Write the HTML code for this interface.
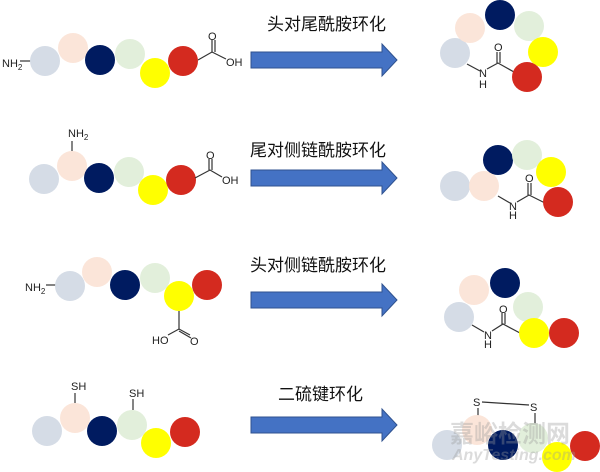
<!DOCTYPE html>
<html><head><meta charset="utf-8"><style>
html,body{margin:0;padding:0;background:#fff;}
svg{display:block}
.t{font-family:"Liberation Sans",sans-serif;font-size:11px;fill:#222}
.c{font-family:"Liberation Sans","Noto Sans CJK SC",sans-serif;font-size:17px;fill:#111}
line,polyline{stroke:#333;stroke-width:1.2;fill:none}
</style></head><body>
<svg width="600" height="472" viewBox="0 0 600 472">
<defs>
<g id="arr"><polygon points="251,-8 382,-8 382,-16 397,0 382,16 382,8 251,8" fill="#4472c4" stroke="#2f528f" stroke-width="1"/></g>
</defs>
<!-- labels -->
<text class="c" x="267" y="30">头对尾酰胺环化</text>
<text class="c" x="250" y="156">尾对侧链酰胺环化</text>
<text class="c" x="250" y="271">头对侧链酰胺环化</text>
<text class="c" x="278" y="400">二硫键环化</text>
<use href="#arr" y="60"/>
<use href="#arr" y="178"/>
<use href="#arr" y="300"/>
<use href="#arr" y="425"/>

<!-- Row1 left -->
<text class="t" x="2" y="67">NH<tspan font-size="8" dy="3">2</tspan></text>
<line x1="20" y1="61" x2="31" y2="61"/>
<circle cx="45" cy="61" r="15" fill="#d5dce6"/>
<circle cx="73" cy="48" r="15" fill="#fbe5d9"/>
<circle cx="100" cy="60" r="15" fill="#001b60"/>
<circle cx="130" cy="54" r="15" fill="#e2efdb"/>
<circle cx="155" cy="73" r="15" fill="#ffff00"/>
<circle cx="183" cy="61" r="15" fill="#d42a1f"/>
<polyline points="198,60 212,52 226,59"/>
<line x1="212" y1="52" x2="212" y2="40"/><line x1="215" y1="52" x2="215" y2="40"/>
<text class="t" x="208" y="40">O</text>
<text class="t" x="226" y="66">OH</text>

<!-- Row1 right -->
<circle cx="455" cy="53" r="15" fill="#d5dce6"/>
<circle cx="470" cy="28" r="15" fill="#fbe5d9"/>
<circle cx="500" cy="15" r="15" fill="#001b60"/>
<circle cx="529" cy="26" r="15" fill="#e2efdb"/>
<circle cx="543" cy="52" r="15" fill="#ffff00"/>
<polyline points="467,64 480,71"/>
<polyline points="487,69 498,63 514,72"/>
<line x1="497" y1="63" x2="497" y2="52"/><line x1="500" y1="63" x2="500" y2="52"/>
<text class="t" x="494" y="51">O</text>
<text class="t" x="479" y="77">N</text><text class="t" x="479" y="88">H</text>
<circle cx="527" cy="77" r="15" fill="#d42a1f"/>

<!-- Row2 left -->
<text class="t" x="68" y="137">NH<tspan font-size="8" dy="3">2</tspan></text>
<line x1="72" y1="141" x2="72" y2="151"/>
<circle cx="44" cy="179" r="15" fill="#d5dce6"/>
<circle cx="72" cy="166" r="15" fill="#fbe5d9"/>
<circle cx="99" cy="178" r="15" fill="#001b60"/>
<circle cx="129" cy="172" r="15" fill="#e2efdb"/>
<circle cx="153" cy="190" r="15" fill="#ffff00"/>
<circle cx="181" cy="180" r="15" fill="#d42a1f"/>
<polyline points="195,178 210,170 222,177"/>
<line x1="209" y1="170" x2="209" y2="159"/><line x1="212" y1="170" x2="212" y2="159"/>
<text class="t" x="206" y="159">O</text>
<text class="t" x="222" y="184">OH</text>

<!-- Row2 right -->
<circle cx="455" cy="186" r="15" fill="#d5dce6"/>
<circle cx="484" cy="186" r="15" fill="#fbe5d9"/>
<circle cx="498" cy="160" r="15" fill="#001b60"/>
<circle cx="527" cy="155" r="15" fill="#e2efdb"/>
<circle cx="551" cy="172" r="15" fill="#ffff00"/>
<polyline points="498,196 510,203"/>
<polyline points="517,202 529,195 545,203"/>
<line x1="528" y1="195" x2="528" y2="183"/><line x1="531" y1="195" x2="531" y2="183"/>
<text class="t" x="525" y="182">O</text>
<text class="t" x="509" y="210">N</text><text class="t" x="509" y="219">H</text>
<circle cx="558" cy="202" r="15" fill="#d42a1f"/>

<!-- Row3 left -->
<text class="t" x="25" y="291">NH<tspan font-size="8" dy="3">2</tspan></text>
<line x1="46" y1="285" x2="56" y2="285"/>
<circle cx="70" cy="286" r="15" fill="#d5dce6"/>
<circle cx="97" cy="272" r="15" fill="#fbe5d9"/>
<circle cx="125" cy="285" r="15" fill="#001b60"/>
<circle cx="155" cy="278" r="15" fill="#e2efdb"/>
<circle cx="179" cy="296" r="15" fill="#ffff00"/>
<circle cx="207" cy="285" r="15" fill="#d42a1f"/>
<line x1="179" y1="311" x2="179" y2="329"/>
<polyline points="168,335 179,329 190,335"/>
<line x1="179" y1="331" x2="191" y2="338"/>
<text class="t" x="152" y="344">HO</text>
<text class="t" x="190" y="345">O</text>

<!-- Row3 right -->
<circle cx="459" cy="317" r="15" fill="#d5dce6"/>
<circle cx="474" cy="290" r="15" fill="#fbe5d9"/>
<circle cx="505" cy="283" r="15" fill="#001b60"/>
<circle cx="528" cy="307" r="15" fill="#e2efdb"/>
<polyline points="472,325 484,332"/>
<polyline points="492,331 503,324 520,333"/>
<line x1="502" y1="324" x2="502" y2="313"/><line x1="505" y1="324" x2="505" y2="313"/>
<text class="t" x="499" y="313">O</text>
<text class="t" x="484" y="339">N</text><text class="t" x="484" y="348">H</text>
<circle cx="534" cy="333" r="15" fill="#ffff00"/>
<circle cx="564" cy="333" r="15" fill="#d42a1f"/>

<!-- Row4 left -->
<text class="t" x="71" y="390">SH</text>
<line x1="75" y1="393" x2="75" y2="403"/>
<text class="t" x="129" y="397">SH</text>
<line x1="133" y1="399" x2="133" y2="410"/>
<circle cx="47" cy="431" r="15" fill="#d5dce6"/>
<circle cx="75" cy="418" r="15" fill="#fbe5d9"/>
<circle cx="102" cy="431" r="15" fill="#001b60"/>
<circle cx="132" cy="425" r="15" fill="#e2efdb"/>
<circle cx="156" cy="443" r="15" fill="#ffff00"/>
<circle cx="185" cy="432" r="15" fill="#d42a1f"/>

<!-- Row4 right -->
<text class="t" x="473" y="406">S</text>
<text class="t" x="530" y="411">S</text>
<line x1="482" y1="402" x2="529" y2="405"/>
<line x1="478" y1="408" x2="478" y2="420"/>
<line x1="535" y1="413" x2="535" y2="424"/>
<circle cx="447" cy="445" r="15" fill="#d5dce6"/>
<circle cx="477" cy="430" r="15" fill="#fbe5d9"/>
<circle cx="503" cy="445" r="15" fill="#001b60"/>
<circle cx="533" cy="438" r="15" fill="#e2efdb"/>
<circle cx="557" cy="457" r="15" fill="#ffff00"/>
<circle cx="585" cy="446" r="15" fill="#d42a1f"/>
<text x="450" y="442" font-family="'Liberation Sans','Noto Sans CJK SC',sans-serif" font-size="24" font-weight="bold" fill="#999" opacity="0.35">嘉峪检测网</text>
<text x="452" y="460" font-family="'Liberation Sans',sans-serif" font-size="16" font-style="italic" font-weight="bold" fill="#999" opacity="0.35">AnyTesting.com</text>
</svg>
</body></html>
